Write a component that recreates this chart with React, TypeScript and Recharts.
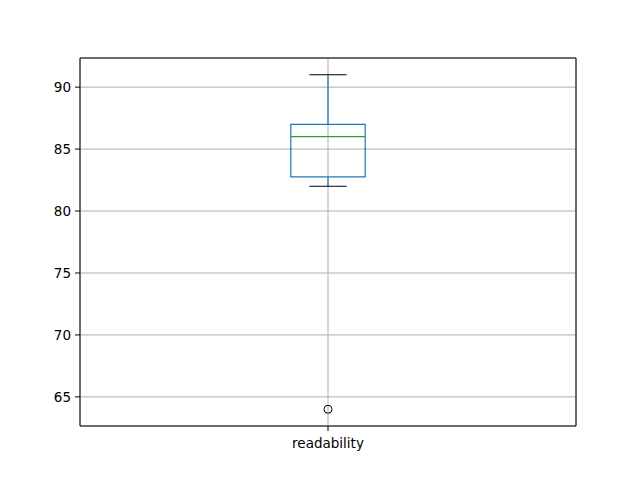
import {
  ComposedChart,
  XAxis,
  YAxis,
  CartesianGrid,
  ReferenceArea,
  ReferenceLine,
  Scatter,
} from "recharts";

// box statistics
const categories = ["readability"];
const quartiles = [82.75, 87];
const medians = [86];
const whiskers = [82, 91];
const outliers = [{ x: 1, y: 64 }];
const yTicks = [65, 70, 75, 80, 85, 90];

const BLUE = "#1f77b4";
const GREEN = "#2ca02c";
const FONT = "DejaVu Sans, sans-serif";

const pos = 1;
const halfBox = 0.075;
const halfCap = 0.0375;

function OutlierDot(props: { cx?: number; cy?: number }) {
  const { cx = 0, cy = 0 } = props;
  return <circle cx={cx} cy={cy} r={4} fill="none" stroke="#000" strokeWidth={1} />;
}

export default function App() {
  return (
    <div style={{ position: "absolute", left: 0, top: 0, background: "#fff" }}>
      <ComposedChart
        width={640}
        height={480}
        margin={{ top: 58, right: 64, bottom: 24, left: 40 }}
      >
        <CartesianGrid stroke="#b0b0b0" strokeWidth={1} />
        <XAxis
          type="number"
          dataKey="x"
          domain={[0.5, 1.5]}
          ticks={[pos]}
          tickFormatter={() => categories[0]}
          height={30}
          axisLine={false}
          tickLine={{ stroke: "#000" }}
          tickSize={5}
          tickMargin={7}
          tick={{ fill: "#000", fontSize: 13.5, fontFamily: FONT }}
          allowDataOverflow
        />
        <YAxis
          type="number"
          dataKey="y"
          domain={[62.65, 92.35]}
          ticks={yTicks}
          width={40}
          axisLine={false}
          tickLine={{ stroke: "#000" }}
          tickSize={5}
          tickMargin={4}
          tick={{ fill: "#000", fontSize: 13.5, fontFamily: FONT }}
          allowDataOverflow
        />
        {/* box */}
        <ReferenceArea
          x1={pos - halfBox}
          x2={pos + halfBox}
          y1={quartiles[0]}
          y2={quartiles[1]}
          fill="none"
          fillOpacity={0}
          stroke={BLUE}
          strokeWidth={1.2}
        />
        {/* whiskers */}
        <ReferenceLine
          segment={[
            { x: pos, y: quartiles[1] },
            { x: pos, y: whiskers[1] },
          ]}
          stroke={BLUE}
          strokeWidth={1.2}
        />
        <ReferenceLine
          segment={[
            { x: pos, y: quartiles[0] },
            { x: pos, y: whiskers[0] },
          ]}
          stroke={BLUE}
          strokeWidth={1.2}
        />
        {/* caps */}
        <ReferenceLine
          segment={[
            { x: pos - halfCap, y: whiskers[1] },
            { x: pos + halfCap, y: whiskers[1] },
          ]}
          stroke="#000"
          strokeWidth={1.2}
        />
        <ReferenceLine
          segment={[
            { x: pos - halfCap, y: whiskers[0] },
            { x: pos + halfCap, y: whiskers[0] },
          ]}
          stroke="#000"
          strokeWidth={1.2}
        />
        {/* median */}
        <ReferenceLine
          segment={[
            { x: pos - halfBox, y: medians[0] },
            { x: pos + halfBox, y: medians[0] },
          ]}
          stroke={GREEN}
          strokeWidth={1.2}
        />
        <Scatter data={outliers} shape={<OutlierDot />} isAnimationActive={false} />
        {/* axes frame */}
        <ReferenceArea
          x1={0.5}
          x2={1.5}
          y1={62.65}
          y2={92.35}
          fill="none"
          fillOpacity={0}
          stroke="#000"
          strokeWidth={1}
        />
      </ComposedChart>
    </div>
  );
}
